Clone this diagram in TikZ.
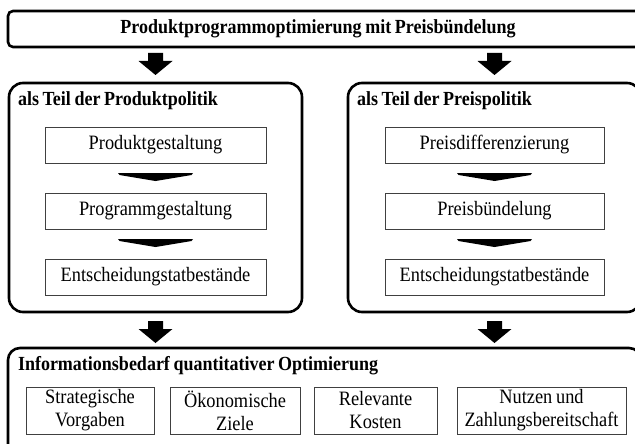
\documentclass[tikz,border=0pt]{standalone}
\usepackage{fontspec}
\setmainfont[FakeStretch=0.9]{Liberation Serif}
\usetikzlibrary{calc}
\newcommand\tightsp{\spaceskip=0.18em\relax}
\begin{document}
\begin{tikzpicture}[x=1pt,y=-1pt,
  every node/.style={font=\fontsize{20.4}{23}\selectfont, inner sep=0pt, outer sep=0pt},
  frame/.style={draw=black, line width=2.6pt, rounded corners=#1},
  ibox/.style={draw=black!75, line width=1pt, align=center},
  ttl/.style={font=\fontsize{20}{22}\selectfont\bfseries, anchor=west},
  blockarrow/.pic={\fill (-7.5,0) -- (7.5,0) -- (7.5,8) -- (17,8) -- (0,22) -- (-17,8) -- (-7.5,8) -- cycle;},
  chev/.pic={\fill (-37.5,0) -- (37.5,0) -- (36,2) -- (0,8) -- (-36,2) -- cycle;}]
\useasboundingbox (0,0) rectangle (635,444);
\clip (0,0) rectangle (635,444);
% top box
\node[frame=5, minimum width=633, minimum height=36] (top) at (324.5,29) {};
\node[font=\fontsize{20}{22}\selectfont\bfseries] (toptxt) at (318,29) {\tightsp Produktprogrammoptimierung mit Preisbündelung};
% panels
\node[frame=14, minimum width=293, minimum height=229] (lp) at (155.5,197.5) {};
\node[frame=14, minimum width=293, minimum height=229] (rp) at (494.5,197.5) {};
\node[ttl] (lpt) at (18,101) {\tightsp als Teil der Produktpolitik};
\node[ttl] (rpt) at (357,101) {\tightsp als Teil der Preispolitik};
% left inner boxes
\node[ibox, minimum width=221, minimum height=36] (l1) at (155.5,145) {Produktgestaltung};
\node[ibox, minimum width=221, minimum height=36] (l2) at (155.5,211) {Programmgestaltung};
\node[ibox, minimum width=221, minimum height=36] (l3) at (155.5,277) {Entscheidungstatbestände};
% right inner boxes
\node[ibox, minimum width=219, minimum height=36] (r1) at (494.5,145) {Preisdifferenzierung};
\node[ibox, minimum width=219, minimum height=36] (r2) at (494.5,211) {Preisbündelung};
\node[ibox, minimum width=219, minimum height=36] (r3) at (494.5,277) {Entscheidungstatbestände};
% chevrons
\pic at ($(l1.south)+(0,10)$) {chev};
\pic at ($(l2.south)+(0,10)$) {chev};
\pic at ($(r1.south)+(0,10)$) {chev};
\pic at ($(r2.south)+(0,10)$) {chev};
% bottom box
\node[frame=12, minimum width=633, minimum height=120] (bot) at (324.5,408) {};
\node[ttl] (bott) at (18,366) {\tightsp Informationsbedarf quantitativer Optimierung};
\node[ibox, minimum width=128, minimum height=47] (b1) at (90,410.5) {Strategische\\Vorgaben};
\node[ibox, minimum width=130, minimum height=47] (b2) at (235,410.5) {Ökonomische\\Ziele};
\node[ibox, minimum width=123, minimum height=47] (b3) at (375.5,410.5) {Relevante\\Kosten};
\node[ibox, minimum width=169, minimum height=47] (b4) at (541.5,410.5) {\tightsp Nutzen und\\Zahlungsbereitschaft};
% block arrows
\pic at ($(lp.north |- top.south)+(0,6)$) {blockarrow};
\pic at ($(rp.north |- top.south)+(0,6)$) {blockarrow};
\pic at ($(lp.south)+(0,9)$) {blockarrow};
\pic at ($(rp.south)+(0,9)$) {blockarrow};
\end{tikzpicture}
\end{document}
